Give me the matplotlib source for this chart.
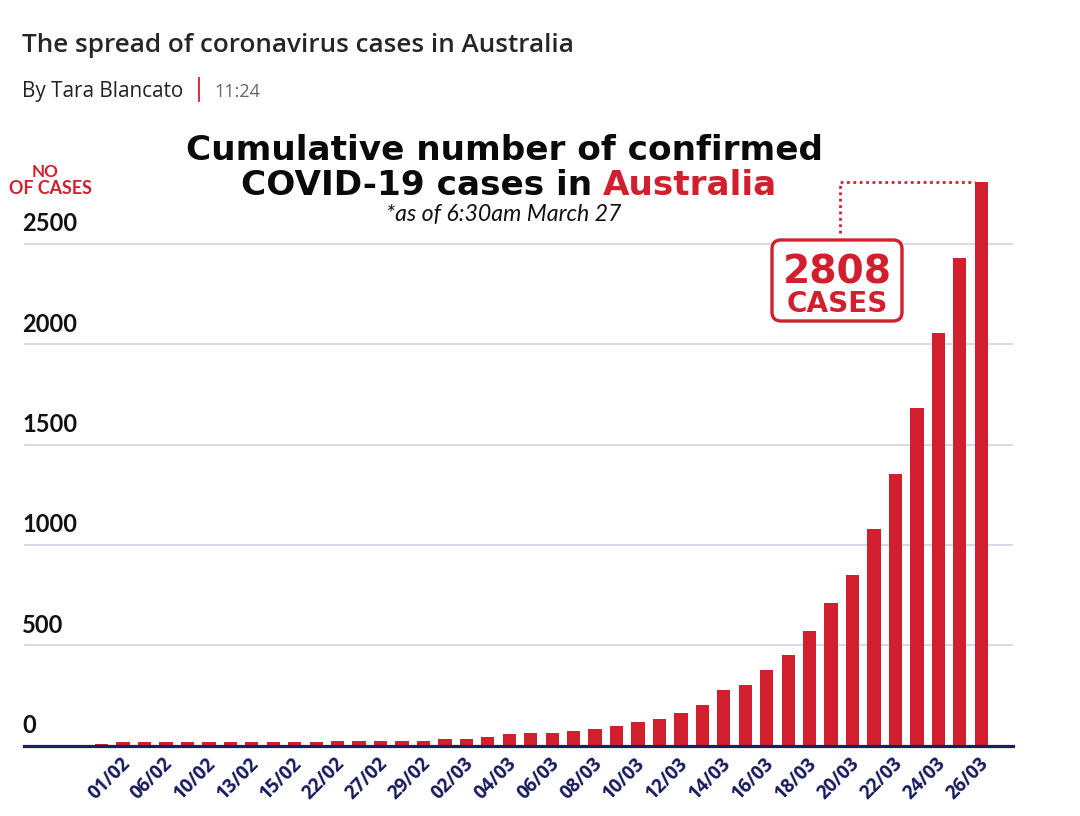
import matplotlib
matplotlib.use('Agg')
import matplotlib.pyplot as plt
import matplotlib.transforms as mtransforms
from matplotlib.patches import FancyBboxPatch

# ---------------- data ----------------
dates = ['25/01', '01/02', '04/02', '06/02', '08/02', '10/02', '12/02', '13/02',
         '14/02', '15/02', '21/02', '22/02', '25/02', '27/02', '28/02', '29/02',
         '01/03', '02/03', '03/03', '04/03', '05/03', '06/03', '07/03', '08/03',
         '09/03', '10/03', '11/03', '12/03', '13/03', '14/03', '15/03', '16/03',
         '17/03', '18/03', '19/03', '20/03', '21/03', '22/03', '23/03', '24/03',
         '25/03', '26/03']
cases = [9, 15, 15, 15, 15, 15, 15, 15, 15, 15, 15,
         23, 23, 23, 23, 23, 30, 33, 41, 55, 63, 64,
         72, 81, 96, 118, 132, 163, 202, 278, 300, 377,
         452, 569, 711, 849, 1078, 1352, 1681, 2054, 2428, 2808]
label_every = 2
yticks = [0, 500, 1000, 1500, 2000, 2500]

RED = '#d21f2d'
NAVY = '#1b1e66'
GRID = '#d3d6e8'

W, H = 1080, 816
fig = plt.figure(figsize=(W / 100, H / 100), dpi=100)
fig.patch.set_facecolor('white')
renderer = fig.canvas.get_renderer()


def px(x, y):
    return x / W, 1 - y / H


def fit(t, target_w):
    w = t.get_window_extent(renderer).width
    t.set_fontsize(t.get_fontsize() * target_w / w)
    return t


# ---------------- axes ----------------
left_px, right_px, base_px, top_px = 24, 1013, 745.5, 130
ax = fig.add_axes([left_px / W, (H - base_px) / H,
                   (right_px - left_px) / W, (base_px - top_px) / H])
x = list(range(len(cases)))
ax.bar(x, cases, width=0.62, color=RED, zorder=2)
ax.set_xlim(-3.62, 42.48)
ax.set_ylim(0, 3068)

for s in ['top', 'right', 'left']:
    ax.spines[s].set_visible(False)
ax.spines['bottom'].set_color(NAVY)
ax.spines['bottom'].set_linewidth(2.3)
ax.spines['bottom'].set_zorder(3)

ax.set_yticks(yticks[1:])
ax.yaxis.grid(True, color=GRID, linewidth=1.3, zorder=0)
ax.tick_params(axis='y', length=0, labelleft=False)
ax.set_axisbelow(True)

tick_idx = [i for i in x if (len(x) - 1 - i) % label_every == 0]
ax.set_xticks(tick_idx)
ax.set_xticklabels([dates[i] for i in tick_idx], rotation=45, ha='right',
                   va='center', rotation_mode='anchor', color='#161a5a',
                   fontsize=13.5, family='Open Sans', weight='bold')
ax.tick_params(axis='x', length=0, pad=11)
shift = mtransforms.ScaledTranslation(4 / 100, 0, fig.dpi_scale_trans)
for lab in ax.get_xticklabels():
    lab.set_transform(lab.get_transform() + shift)

ytrans = mtransforms.offset_copy(ax.get_yaxis_transform(), fig=fig,
                                 x=-2, y=20, units='dots')
for v in yticks:
    ax.text(0, v, str(v), transform=ytrans, ha='left', va='center',
            fontsize=17, family='Lato', weight='bold', color='#111111')

# ---------------- header ----------------
t = fig.text(*px(22, 52), 'The spread of coronavirus cases in Australia',
             ha='left', va='baseline', family='Open Sans', weight='semibold',
             fontsize=16.5, color='#262626')
fit(t, 555)
t = fig.text(*px(22, 97), 'By Tara Blancato', ha='left', va='baseline',
             family='Open Sans', fontsize=13, color='#222222')
fit(t, 160)
t = fig.text(*px(214, 97), '11:24', ha='left', va='baseline',
             family='Open Sans', fontsize=13, color='#666666')
fit(t, 46)
fig.add_artist(plt.Line2D([199 / W, 199 / W], [1 - 78 / H, 1 - 101 / H],
                          color=RED, linewidth=1.3))

# ---------------- chart title ----------------
TF = 'DejaVu Sans'
t1 = fig.text(*px(505, 160), 'Cumulative number of confirmed', ha='center',
              va='baseline', family=TF, weight='bold', fontsize=22,
              color='#0a0a0a')
fit(t1, 634)
fs = t1.get_fontsize()
ta = fig.text(0, 1 - 195 / H, 'COVID-19 cases in', ha='left', va='baseline',
              family=TF, weight='bold', fontsize=fs, color='#0a0a0a')
tb = fig.text(0, 1 - 195 / H, 'Australia', ha='left', va='baseline',
              family=TF, weight='bold', fontsize=fs, color=RED)
wa = ta.get_window_extent(renderer).width
wb = tb.get_window_extent(renderer).width
gap = 0.3 * fs * 100 / 72
total = wa + gap + wb
x0 = 509 - total / 2
ta.set_x(x0 / W)
tb.set_x((x0 + wa + gap) / W)

ts = fig.text(*px(504, 221), '*as of 6:30am March 27', ha='center',
              va='baseline', family='Lato', style='italic', weight='normal',
              fontsize=14, color='#111111')
fit(ts, 237)

t_of = fig.text(*px(50, 193.5), 'OF CASES', ha='center', va='baseline',
                family='Lato', weight='bold', fontsize=10, color=RED)
fit(t_of, 83)
fig.text(*px(45, 177), 'NO', ha='center', va='baseline', family='Lato',
         weight='bold', fontsize=t_of.get_fontsize() * 0.95, color=RED)

# ---------------- annotation ----------------
aw = right_px - left_px
ah = base_px - top_px
bx0 = (772 - left_px) / aw
bx1 = (902 - left_px) / aw
by0 = (base_px - 321) / ah
by1 = (base_px - 240) / ah
box = FancyBboxPatch((bx0, by0), bx1 - bx0, by1 - by0,
                     boxstyle='round,pad=0,rounding_size=0.009',
                     mutation_aspect=aw / ah, transform=ax.transAxes,
                     facecolor='white', edgecolor=RED, linewidth=2.4,
                     zorder=4, clip_on=False)
ax.add_patch(box)
cx = (837 - left_px) / aw
t = ax.text(cx, (base_px - 284) / ah, f'{cases[-1]}', transform=ax.transAxes,
            ha='center', va='baseline', family=TF, weight='bold',
            fontsize=30, color=RED, zorder=5)
fit(t, 109)
t = ax.text(cx, (base_px - 312) / ah, 'CASES', transform=ax.transAxes,
            ha='center', va='baseline', family=TF, weight='bold',
            fontsize=18, color=RED, zorder=5)
fit(t, 101)

# dotted leader from box to the last bar
px_per_x = aw / (42.48 + 3.62)
lead_x = -3.62 + (840 - left_px) / px_per_x
val_per_px = 3068 / ah
lead_y0 = (base_px - 233) * val_per_px
last = len(cases) - 1
ax.plot([lead_x, lead_x, last - 0.31], [lead_y0, cases[-1], cases[-1]],
        color=RED, linewidth=2, dashes=(1, 1.3), zorder=4, clip_on=False)

fig.savefig('out.png', dpi=100, facecolor='white')
